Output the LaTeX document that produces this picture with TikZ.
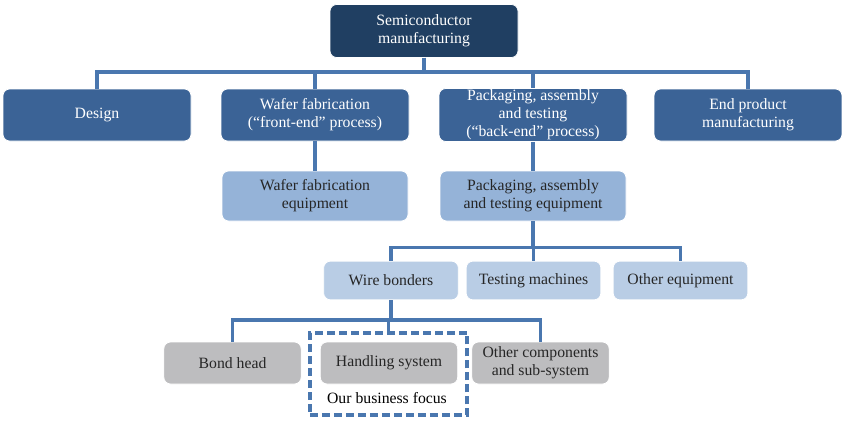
\documentclass[tikz,border=0pt]{standalone}
\usepackage{fontspec}
\setmainfont{Liberation Serif}
\usetikzlibrary{positioning}

\definecolor{navy}{HTML}{203F62}
\definecolor{midblue}{HTML}{3B6396}
\definecolor{lightblue}{HTML}{95B3D8}
\definecolor{paleblue}{HTML}{B9CDE5}
\definecolor{greybox}{HTML}{BDBDBF}
\definecolor{linkblue}{HTML}{4A77AF}

\begin{document}
\begin{tikzpicture}[x=0.75pt, y=-0.75pt,
    every node/.style={font=\fontsize{11.8}{13.5}\selectfont, align=center},
    box/.style={rectangle, rounded corners=5pt, inner sep=1pt, draw=white, line width=0.6pt},
    rootbox/.style={box, fill=navy, text=white, minimum width=141pt, minimum height=39.75pt},
    stagebox/.style={box, fill=midblue, text=white, minimum width=141pt, minimum height=39pt},
    equipbox/.style={box, fill=lightblue, text=black!85, minimum width=139.5pt, minimum height=37.5pt},
    machbox/.style={box, fill=paleblue, text=black!85, minimum width=101pt, minimum height=29pt},
    partbox/.style={box, fill=greybox, text=black!85, minimum width=103pt, minimum height=31.5pt},
    link/.style={draw=linkblue, line width=2.8pt}]
  \useasboundingbox (0,0) rectangle (842,421);

  % focus frame first, so the boxes sit on top
  \node[draw=linkblue, line width=2.8pt, dash pattern=on 6pt off 3pt,
        minimum width=118pt, minimum height=61.5pt] (focus) at (388.5,374) {};
  \node (focustext) at (387,398) {Our business focus};

  \node[rootbox] (semi) at (424,31) {Semiconductor\\manufacturing};

  \node[stagebox] (design) at (97,115) {Design};
  \node[stagebox] (wafer)  at (315,115) {Wafer fabrication\\(``front-end'' process)};
  \node[stagebox] (pack)   at (533,115) {Packaging, assembly\\and testing\\(``back-end'' process)};
  \node[stagebox] (endp)   at (748,115) {End product\\manufacturing};

  \node[equipbox] (wafereq) at (315,196) {Wafer fabrication\\equipment};
  \node[equipbox] (packeq)  at (533,196) {Packaging, assembly\\and testing equipment};

  \node[machbox] (wire)  at (391,280.5) {Wire bonders};
  \node[machbox] (test)  at (533.5,280.5) {Testing machines};
  \node[machbox] (other) at (680.5,280.5) {Other equipment};

  \node[partbox] (bond)   at (232.5,363) {Bond head};
  \node[partbox] (handle) at (389,363) {Handling system};
  \node[partbox] (comp)   at (540.5,363) {Other components\\and sub-system};

  % tree lines
  \foreach \n in {design, wafer, pack, endp}
    \draw[link] (semi.south) -- ++(0,14) -| (\n.north);
  \draw[link] (wafer.south) -- (wafereq.north);
  \draw[link] (pack.south) -- (packeq.north);
  \foreach \n in {wire, test, other}
    \draw[link] (packeq.south) -- ++(0,26) -| (\n.north);
  \foreach \n in {bond, focus, comp}
    \draw[link] (wire.south) -- ++(0,20) -| (\n.north);
\end{tikzpicture}
\end{document}
